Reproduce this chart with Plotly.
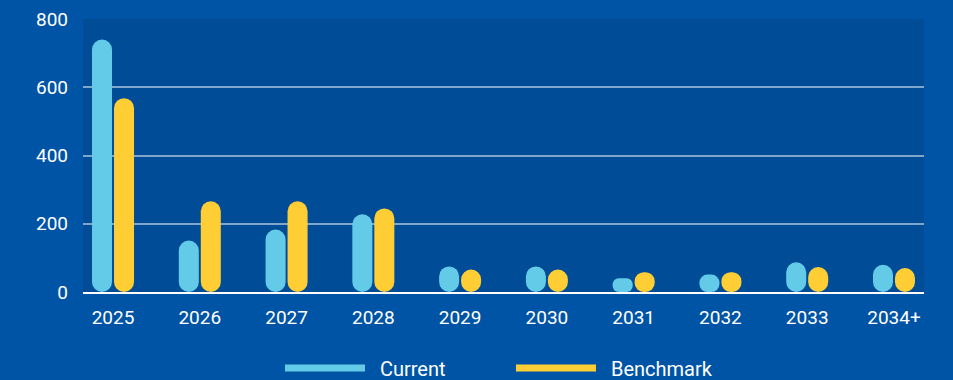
import plotly.graph_objects as go

categories = ["2025", "2026", "2027", "2028", "2029", "2030", "2031", "2032", "2033", "2034+"]
current = [740, 151, 183, 228, 75, 75, 40, 51, 87, 80]
benchmark = [568, 266, 266, 245, 66, 66, 58, 58, 73, 70]
y_ticks = [0, 200, 400, 600, 800]

C_CUR = "#63CBE8"
C_BEN = "#FFCD34"
PAPER = "#0054A5"
PLOT = "#004C96"
FONT = "Roboto"
PAD = "\u00a0\u00a0"

fig = go.Figure()


def add_pill(name, values, color, group):
    # a floating bar (base given) gets both ends rounded -> pill shape from 0 to value
    fig.add_trace(go.Bar(x=categories, y=[-v for v in values], base=values, name=name,
                         offsetgroup=group,
                         marker=dict(color=color, line=dict(width=0), cornerradius="50%"),
                         showlegend=False, hoverinfo="skip"))
    # legend entry (line swatch)
    fig.add_trace(go.Scatter(x=[None], y=[None], mode="lines", name=PAD + name,
                             line=dict(color=color, width=7), showlegend=True))


add_pill("Current", current, C_CUR, "cur")
add_pill("Benchmark", benchmark, C_BEN, "ben")

fig.update_layout(
    width=953, height=380,
    margin=dict(l=83, r=29, t=19, b=87.5, autoexpand=False),
    paper_bgcolor=PAPER, plot_bgcolor=PLOT,
    barmode="group", bargap=0.493, bargroupgap=0.09,
    font=dict(family=FONT, size=19, color="white"),
    showlegend=True,
    legend=dict(orientation="h", xref="container", yref="container",
                x=280 / 953, xanchor="left", y=1 - 368 / 380, yanchor="middle",
                font=dict(family=FONT, size=20, color="white"), itemwidth=80,
                entrywidth=136, bgcolor="rgba(0,0,0,0)", traceorder="normal"),
)
fig.update_xaxes(type="category", range=[-0.346, 9.346], showgrid=False,
                 showline=True, linecolor="white", linewidth=2,
                 ticks="", ticklabelstandoff=7, tickfont=dict(size=19, color="white"))
fig.update_yaxes(range=[0, 800], tickvals=y_ticks, showgrid=True,
                 gridcolor="rgba(255,255,255,0.5)", gridwidth=2, zeroline=False,
                 ticks="", ticklabelstandoff=14, tickfont=dict(size=19, color="white"))

fig.write_html("out.html", config={"displayModeBar": False},
               post_script="document.body.style.margin='0';")
